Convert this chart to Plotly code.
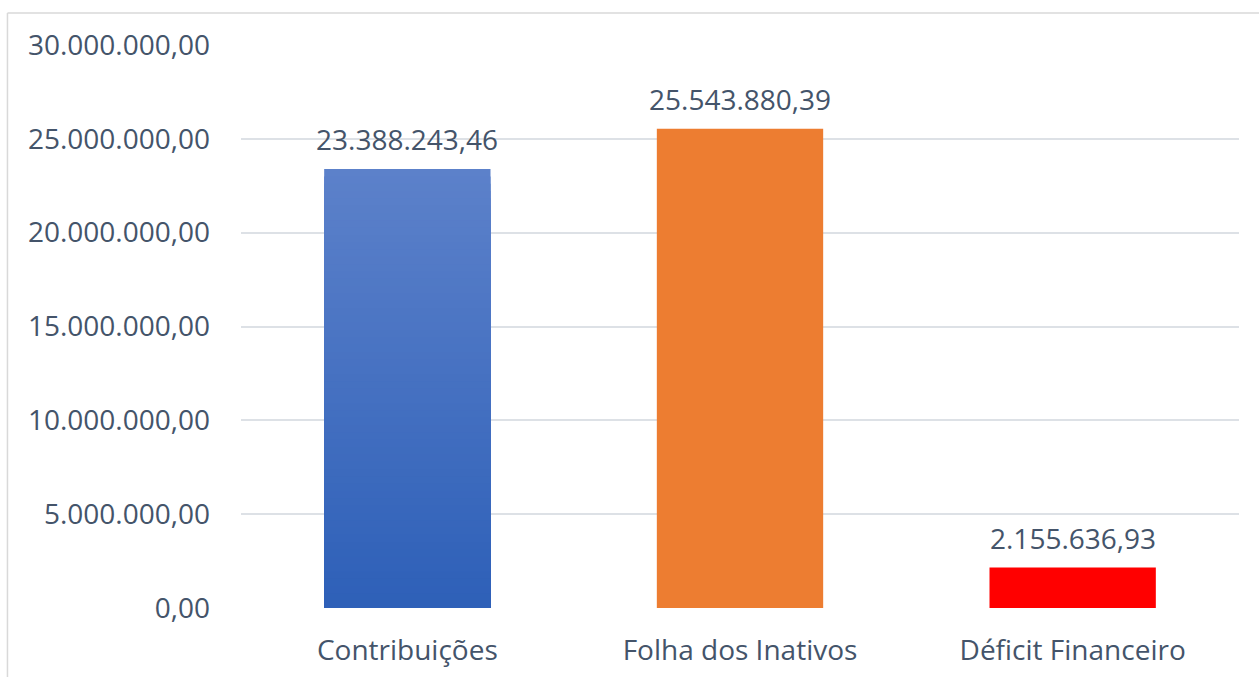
import plotly.graph_objects as go

# Dados do gráfico
categorias = ["Contribuições", "Folha dos Inativos", "Déficit Financeiro"]
valores = [23388243.46, 25543880.39, 2155636.93]
cores = ["#4472c4", "#ed7d31", "#ff0000"]
y_ticks = [0, 5000000, 10000000, 15000000, 20000000, 25000000, 30000000]

TEXTO = "#44546a"
GRADE = "#dde1e6"
BORDA = "#d9d9d9"
FONTE = "Open Sans"
TAM = 28


def formata_br(v):
    s = f"{v:,.2f}"
    return s.replace(",", "#").replace(".", ",").replace("#", ".")


fig = go.Figure()

# Barra "Contribuições" com gradiente vertical: barras sobrepostas,
# da mais alta (cor clara) para a mais baixa (cor escura)
topo = (92, 129, 202)
base = (46, 96, 184)
N = 60
for i in range(N):
    t = i / (N - 1)
    cor = tuple(round(topo[k] + (base[k] - topo[k]) * t) for k in range(3))
    fig.add_trace(go.Bar(
        x=[categorias[0]],
        y=[valores[0] * (N - i) / N],
        marker=dict(color=f"rgb{cor}", line=dict(width=0)),
        hoverinfo="skip",
        showlegend=False,
    ))

# Demais barras
fig.add_trace(go.Bar(
    x=categorias[1:],
    y=valores[1:],
    marker=dict(color=cores[1:], line=dict(width=0)),
    showlegend=False,
))

# Rótulos de dados
for c, v in zip(categorias, valores):
    fig.add_annotation(
        x=c, y=v, text=formata_br(v), showarrow=False,
        yanchor="bottom", yshift=9,
        font=dict(family=FONTE, size=TAM, color=TEXTO),
    )

# Borda da área do gráfico
fig.add_shape(type="line", xref="paper", yref="paper",
              x0=-0.234, x1=1.1, y0=1.0568, y1=1.0568,
              line=dict(color=BORDA, width=1.5))
fig.add_shape(type="line", xref="paper", yref="paper",
              x0=-0.234, x1=-0.234, y0=1.0568, y1=-0.2,
              line=dict(color=BORDA, width=1.5))

fig.update_layout(
    width=1259, height=677,
    margin=dict(l=241, r=20, t=45, b=69, autoexpand=False),
    paper_bgcolor="white", plot_bgcolor="white",
    barmode="overlay", bargap=0.5,
    separators=",.",
    font=dict(family=FONTE, size=TAM, color=TEXTO),
    xaxis=dict(
        showgrid=False, showline=False, zeroline=False,
        ticks="", ticklabelstandoff=23, automargin=False,
        tickfont=dict(family=FONTE, size=TAM, color=TEXTO),
    ),
    yaxis=dict(
        range=[0, 30000000], tickvals=y_ticks, tickformat=",.2f",
        showgrid=True, gridcolor=GRADE, gridwidth=1.5,
        zeroline=False, showline=False, ticks="",
        ticklabelstandoff=30, automargin=False,
        tickfont=dict(family=FONTE, size=TAM, color=TEXTO),
    ),
)

fig.write_html("out.html")
